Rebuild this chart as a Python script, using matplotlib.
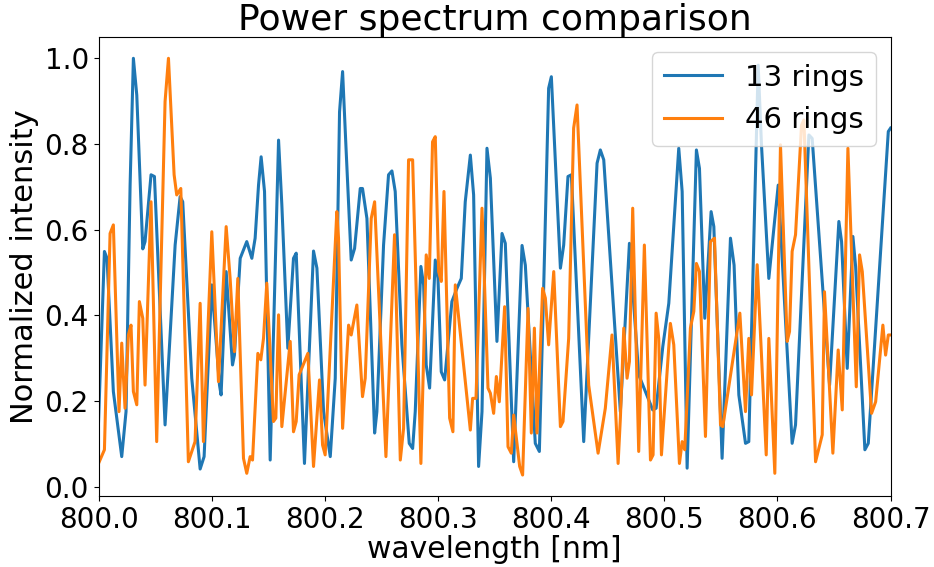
import matplotlib
matplotlib.use("Agg")
import matplotlib.pyplot as plt

# 13 rings (blue)
x13 = [800.0000, 800.0052, 800.0075, 800.0131, 800.0205, 800.0243, 800.0279, 800.0308, 800.0338,
       800.0391, 800.0411, 800.0464, 800.0494, 800.0588, 800.0677, 800.0721, 800.0744, 800.0824,
       800.0898, 800.0933, 800.1001, 800.1069, 800.1083, 800.1128, 800.1184, 800.1201, 800.1252,
       800.1310, 800.1355, 800.1384, 800.1414, 800.1437, 800.1467, 800.1517, 800.1591, 800.1620,
       800.1673, 800.1723, 800.1747, 800.1820, 800.1900, 800.1930, 800.1989, 800.2048, 800.2092,
       800.2130, 800.2157, 800.2186, 800.2233, 800.2263, 800.2313, 800.2333, 800.2372, 800.2440,
       800.2460, 800.2519, 800.2563, 800.2593, 800.2622, 800.2681, 800.2746, 800.2776, 800.2799,
       800.2849, 800.2873, 800.2896, 800.2926, 800.2976, 800.3000, 800.3029, 800.3059, 800.3123,
       800.3168, 800.3206, 800.3241, 800.3286, 800.3315, 800.3359, 800.3389, 800.3433, 800.3463,
       800.3521, 800.3566, 800.3595, 800.3669, 800.3743, 800.3772, 800.3860, 800.3896, 800.3934,
       800.3978, 800.4002, 800.4082, 800.4111, 800.4149, 800.4179, 800.4288, 800.4406, 800.4435,
       800.4465, 800.4612, 800.4692, 800.4774, 800.4898, 800.4928, 800.4987, 800.5040, 800.5128,
       800.5158, 800.5202, 800.5284, 800.5311, 800.5358, 800.5414, 800.5438, 800.5511, 800.5585,
       800.5617, 800.5659, 800.5718, 800.5747, 800.5830, 800.5859, 800.5924, 800.6007, 800.6130,
       800.6160, 800.6278, 800.6307, 800.6461, 800.6543, 800.6567, 800.6617, 800.6667, 800.6691,
       800.6773, 800.6803, 800.6980, 800.7000]
y13 = [0.152, 0.549, 0.533, 0.222, 0.070, 0.175, 0.704, 1.000, 0.914,
       0.555, 0.572, 0.728, 0.724, 0.144, 0.564, 0.677, 0.665, 0.253,
       0.041, 0.070, 0.471, 0.237, 0.214, 0.502, 0.284, 0.307, 0.533,
       0.572, 0.533, 0.580, 0.704, 0.770, 0.689, 0.062, 0.809, 0.658,
       0.323, 0.533, 0.545, 0.054, 0.550, 0.510, 0.175, 0.070, 0.253,
       0.875, 0.969, 0.798, 0.529, 0.556, 0.696, 0.696, 0.626, 0.125,
       0.175, 0.564, 0.728, 0.737, 0.689, 0.331, 0.101, 0.089, 0.175,
       0.514, 0.471, 0.284, 0.230, 0.529, 0.486, 0.268, 0.249, 0.432,
       0.463, 0.486, 0.665, 0.774, 0.681, 0.047, 0.175, 0.790, 0.720,
       0.339, 0.591, 0.568, 0.058, 0.563, 0.517, 0.101, 0.082, 0.463,
       0.930, 0.957, 0.510, 0.564, 0.724, 0.728, 0.105, 0.755, 0.786,
       0.763, 0.175, 0.568, 0.261, 0.179, 0.183, 0.327, 0.428, 0.790,
       0.689, 0.043, 0.786, 0.743, 0.393, 0.642, 0.607, 0.066, 0.580,
       0.517, 0.214, 0.101, 0.105, 0.984, 0.798, 0.486, 0.704, 0.101,
       0.144, 0.821, 0.813, 0.237, 0.619, 0.572, 0.276, 0.584, 0.514,
       0.086, 0.101, 0.829, 0.837]

# 46 rings (orange)
x46 = [800.0000, 800.0052, 800.0102, 800.0131, 800.0181, 800.0205, 800.0234, 800.0264, 800.0287,
       800.0308, 800.0338, 800.0361, 800.0391, 800.0411, 800.0464, 800.0514, 800.0588, 800.0618,
       800.0668, 800.0691, 800.0727, 800.0794, 800.0853, 800.0898, 800.0927, 800.1001, 800.1060,
       800.1128, 800.1163, 800.1201, 800.1231, 800.1281, 800.1310, 800.1340, 800.1361, 800.1408,
       800.1434, 800.1458, 800.1487, 800.1546, 800.1567, 800.1591, 800.1620, 800.1694, 800.1723,
       800.1747, 800.1773, 800.1850, 800.1900, 800.1953, 800.1980, 800.2003, 800.2106, 800.2121,
       800.2157, 800.2210, 800.2233, 800.2283, 800.2333, 800.2357, 800.2410, 800.2440, 800.2540,
       800.2616, 800.2667, 800.2696, 800.2740, 800.2776, 800.2849, 800.2896, 800.2923, 800.2952,
       800.2976, 800.3006, 800.3029, 800.3053, 800.3103, 800.3132, 800.3153, 800.3286, 800.3306,
       800.3336, 800.3389, 800.3442, 800.3463, 800.3492, 800.3516, 800.3542, 800.3589, 800.3619,
       800.3648, 800.3669, 800.3722, 800.3748, 800.3796, 800.3825, 800.3852, 800.3875, 800.3925,
       800.3949, 800.3978, 800.4023, 800.4082, 800.4105, 800.4155, 800.4199, 800.4229, 800.4332,
       800.4415, 800.4479, 800.4538, 800.4592, 800.4612, 800.4642, 800.4671, 800.4692, 800.4721,
       800.4774, 800.4824, 800.4878, 800.4901, 800.4928, 800.4951, 800.4975, 800.5054, 800.5084,
       800.5134, 800.5158, 800.5181, 800.5231, 800.5261, 800.5284, 800.5311, 800.5364, 800.5408,
       800.5444, 800.5497, 800.5517, 800.5623, 800.5668, 800.5718, 800.5747, 800.5771, 800.5821,
       800.5901, 800.5924, 800.5977, 800.6027, 800.6086, 800.6107, 800.6130, 800.6160, 800.6213,
       800.6234, 800.6337, 800.6396, 800.6416, 800.6490, 800.6537, 800.6573, 800.6623, 800.6697,
       800.6726, 800.6750, 800.6832, 800.6868, 800.6932, 800.6956, 800.6980, 800.7000]
y46 = [0.054, 0.086, 0.591, 0.611, 0.175, 0.335, 0.183, 0.354, 0.377,
       0.222, 0.191, 0.432, 0.393, 0.237, 0.665, 0.105, 0.899, 1.000,
       0.728, 0.681, 0.696, 0.058, 0.105, 0.428, 0.105, 0.595, 0.245,
       0.607, 0.486, 0.315, 0.486, 0.066, 0.031, 0.070, 0.062, 0.311,
       0.296, 0.346, 0.475, 0.152, 0.160, 0.401, 0.140, 0.339, 0.128,
       0.152, 0.261, 0.311, 0.047, 0.249, 0.097, 0.074, 0.642, 0.580,
       0.136, 0.377, 0.354, 0.424, 0.210, 0.253, 0.626, 0.665, 0.070,
       0.588, 0.062, 0.136, 0.763, 0.763, 0.054, 0.541, 0.486, 0.805,
       0.817, 0.502, 0.479, 0.689, 0.160, 0.128, 0.471, 0.132, 0.206,
       0.206, 0.650, 0.230, 0.218, 0.171, 0.257, 0.198, 0.420, 0.093,
       0.078, 0.167, 0.047, 0.027, 0.416, 0.125, 0.370, 0.125, 0.463,
       0.440, 0.331, 0.502, 0.140, 0.152, 0.346, 0.837, 0.891, 0.237,
       0.078, 0.183, 0.354, 0.054, 0.160, 0.370, 0.253, 0.292, 0.650,
       0.082, 0.564, 0.062, 0.074, 0.405, 0.346, 0.074, 0.381, 0.331,
       0.054, 0.105, 0.086, 0.370, 0.409, 0.521, 0.502, 0.117, 0.572,
       0.580, 0.144, 0.140, 0.327, 0.405, 0.175, 0.346, 0.214, 0.518,
       0.074, 0.346, 0.031, 0.798, 0.339, 0.362, 0.549, 0.588, 0.844,
       0.856, 0.058, 0.121, 0.455, 0.078, 0.319, 0.179, 0.790, 0.233,
       0.541, 0.502, 0.171, 0.198, 0.377, 0.307, 0.354, 0.354]

labels = ["13 rings", "46 rings"]
xticks = [800.0, 800.1, 800.2, 800.3, 800.4, 800.5, 800.6, 800.7]
yticks = [0.0, 0.2, 0.4, 0.6, 0.8, 1.0]

fig = plt.figure(figsize=(9.34, 5.67), dpi=100)
ax = fig.add_axes([0.1055, 0.1252, 0.848, 0.809])
ax.plot(x13, y13, color="#1f77b4", lw=2.2, label=labels[0])
ax.plot(x46, y46, color="#ff7f0e", lw=2.2, label=labels[1])
ax.set_xlim(800.0, 800.7)
ax.set_ylim(-0.022, 1.049)
ax.set_xticks(xticks)
ax.set_xticklabels([f"{v:.1f}" for v in xticks])
ax.set_yticks(yticks)
ax.set_yticklabels([f"{v:.1f}" for v in yticks])
ax.tick_params(labelsize=20)
ax.set_xlabel("wavelength [nm]", fontsize=21.5, labelpad=1)
ax.set_ylabel("Normalized intensity", fontsize=22, labelpad=4)
ax.set_title("Power spectrum comparison", fontsize=26, pad=4)
ax.legend(loc="upper right", fontsize=21)
fig.savefig("out.png", dpi=100)
